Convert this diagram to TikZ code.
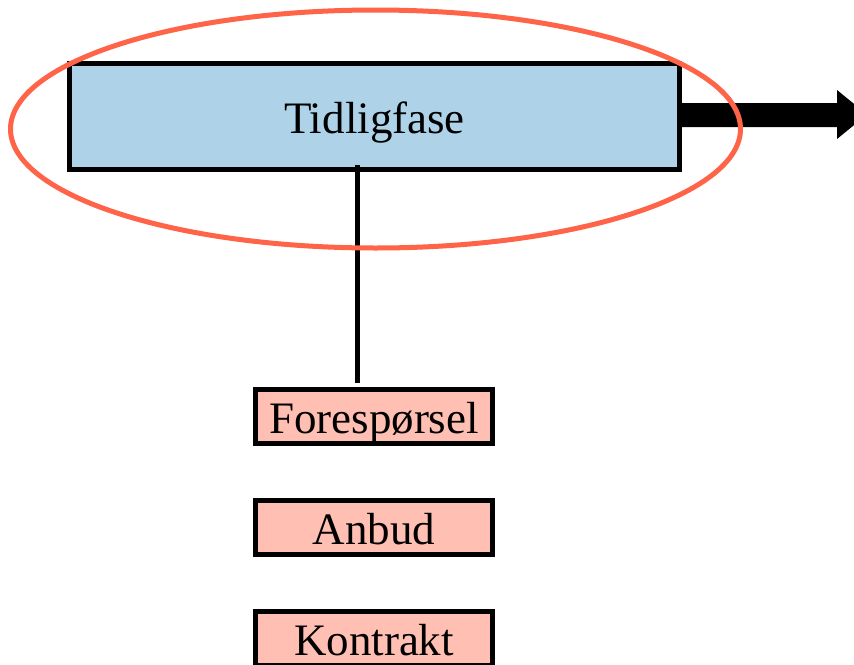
\documentclass[tikz,border=0pt]{standalone}
\usepackage{fontspec}
\setmainfont{Liberation Serif}
\definecolor{phaseblue}{RGB}{174,211,232}
\definecolor{steppink}{RGB}{255,191,179}
\definecolor{ringred}{RGB}{255,100,72}
\tikzset{
  labelfont/.style={font=\fontsize{45}{54}\selectfont,
    text height=33pt, text depth=0pt},
  phasebox/.style={draw=black, line width=5pt, fill=phaseblue,
    minimum width=610pt, minimum height=106pt, inner sep=0pt, labelfont},
  stepbox/.style={draw=black, line width=5pt, fill=steppink,
    minimum width=237pt, minimum height=54pt, inner sep=0pt, labelfont},
  link/.style={draw=black, line width=5pt},
  ring/.style={draw=ringred, line width=5pt}
}
\begin{document}
\begin{tikzpicture}[x=1pt,y=-1pt]
  \useasboundingbox (0,0) rectangle (854,664);

  % early phase
  \node[phasebox] (tidlig) at (374.5,116.5) {Tidligfase};

  % process steps
  \node[stepbox] (foresp) at (374,416.5) {Foresp\o rsel};
  \node[stepbox] (anbud) at (374,527.5) {Anbud};
  \node[stepbox] (kontrakt) at (374,638.5) {Kontrakt};

  % link from the phase down to the steps
  \coordinate (vtop) at (357,165);
  \coordinate (vbot) at (357,383);
  \draw[link] (vtop) -- (vbot);

  % thick block arrow leaving the phase box
  \fill[black] (tidlig.east |- 0,103) -- (837,103) -- (837,90) -- (867,114.5)
    -- (837,139) -- (837,127) -- (tidlig.east |- 0,127) -- cycle;

  % highlight ring round the phase
  \draw[ring] (375.5,129) ellipse [x radius=365, y radius=119];
\end{tikzpicture}
\end{document}
